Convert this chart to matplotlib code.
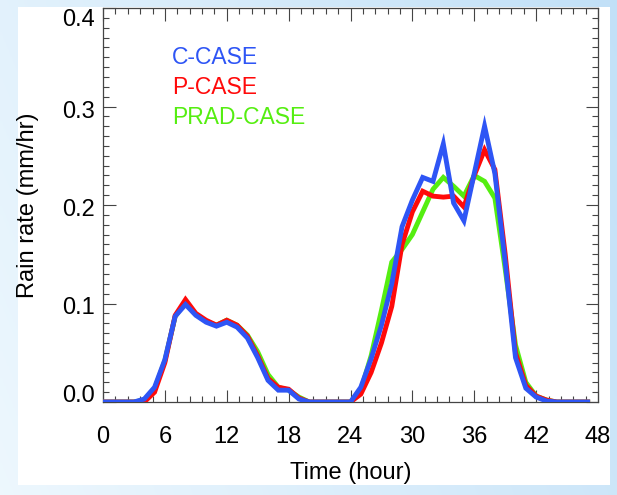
import numpy as np
import matplotlib
matplotlib.use("Agg")
import matplotlib.pyplot as plt
import matplotlib.transforms as mtransforms
from matplotlib.ticker import MultipleLocator

plt.rcParams['font.family'] = ['Liberation Sans', 'DejaVu Sans']

hours = list(range(48))
c_case = [0, 0, 0, 0, 0.003, 0.015, 0.043, 0.087, 0.099, 0.088, 0.081, 0.077, 0.081, 0.076, 0.065, 0.045,
          0.022, 0.012, 0.012, 0.003, 0, 0, 0, 0, 0, 0.015, 0.044, 0.078, 0.120, 0.178, 0.205, 0.228,
          0.224, 0.262, 0.202, 0.184, 0.232, 0.280, 0.232, 0.142, 0.045, 0.014, 0.005, 0.001, 0, 0, 0, 0]
p_case = [0, 0, 0, 0, 0, 0.010, 0.040, 0.088, 0.104, 0.090, 0.083, 0.078, 0.083, 0.078, 0.067, 0.047,
          0.024, 0.015, 0.013, 0.004, 0, 0, 0, 0, 0, 0.008, 0.030, 0.060, 0.097, 0.160, 0.193, 0.214,
          0.209, 0.208, 0.209, 0.198, 0.230, 0.256, 0.236, 0.150, 0.050, 0.017, 0.006, 0.002, 0, 0, 0, 0]
prad_case = [0, 0, 0, 0, 0.002, 0.013, 0.042, 0.087, 0.101, 0.089, 0.082, 0.078, 0.083, 0.078, 0.068, 0.051,
             0.028, 0.015, 0.012, 0.005, 0, 0, 0, 0, 0, 0.012, 0.047, 0.093, 0.142, 0.155, 0.170, 0.193,
             0.216, 0.228, 0.219, 0.209, 0.230, 0.224, 0.207, 0.135, 0.058, 0.020, 0.006, 0.002, 0, 0, 0, 0]
labels = ["C-CASE", "P-CASE", "PRAD-CASE"]
x_ticks = [0, 6, 12, 18, 24, 30, 36, 42, 48]
y_ticks = [0.0, 0.1, 0.2, 0.3, 0.4]

BLUE = "#2e55f5"
RED = "#ff0a0a"
GREEN = "#55ee11"

W, H = 617, 495
fig = plt.figure(figsize=(W / 100, H / 100), dpi=100)

# gradient background
bg = fig.add_axes([0, 0, 1, 1], zorder=-10)
gx = np.linspace(0, 1, 200)[None, :]
gy = np.linspace(1, 0, 200)[:, None]
t = np.clip(0.75 * gx + 0.25 * gy, 0, 1)
c0 = np.array([0.93, 0.97, 0.995])
c1 = np.array([0.76, 0.88, 0.97])
img = c0[None, None, :] * (1 - t[..., None]) + c1[None, None, :] * t[..., None]
bg.imshow(img, aspect='auto', extent=[0, 1, 0, 1])
bg.add_patch(plt.Rectangle((18 / W, 1 - 485 / H), (610 - 18) / W, (485 - 7) / H,
                           facecolor='white', edgecolor='none'))
bg.set_xlim(0, 1)
bg.set_ylim(0, 1)
bg.axis('off')

ax_left, ax_right, ax_top, ax_bot = 103, 598, 8, 402
ax = fig.add_axes([ax_left / W, 1 - ax_bot / H, (ax_right - ax_left) / W, (ax_bot - ax_top) / H])
ax.set_facecolor('none')
lw = 3.5
ax.plot(hours, prad_case, color=GREEN, lw=lw, solid_joinstyle='miter', zorder=3)
ax.plot(hours, p_case, color=RED, lw=lw, solid_joinstyle='miter', zorder=4)
ax.plot(hours, c_case, color=BLUE, lw=lw, solid_joinstyle='miter', zorder=5)

FS = 17
ax.set_xlim(0, 48)
ax.set_ylim(0, 0.4)
ax.set_xticks(x_ticks)
ax.set_yticks(y_ticks)
ax.set_xticklabels([str(v) for v in x_ticks], fontsize=FS)
ax.set_yticklabels([f"{v:.1f}" for v in y_ticks], fontsize=FS)
ax.xaxis.set_minor_locator(MultipleLocator(1.2))
ax.yaxis.set_minor_locator(MultipleLocator(0.01))
ax.tick_params(which='both', direction='in', top=True, right=True, color='#444444', width=0.8)
ax.tick_params(which='major', length=9)
ax.tick_params(which='minor', length=4.5)
ax.tick_params(axis='x', which='major', pad=17)
ax.tick_params(axis='y', which='major', pad=6)
# vertical offsets (pixels, positive = down) of y tick labels relative to their tick
offsets = [-6, 4, 5, 5, 12]
for lab, off in zip(ax.get_yticklabels(), offsets):
    lab.set_verticalalignment('center')
    lab.set_transform(lab.get_transform() +
                      mtransforms.ScaledTranslation(0, -off / 100, fig.dpi_scale_trans))
# the white panel cuts the last x tick label, as in the reference
panel_box = mtransforms.Bbox.from_extents(18, H - 485, 610, H - 7)
for lab in ax.get_xticklabels():
    lab.set_clip_box(mtransforms.TransformedBbox(panel_box, mtransforms.IdentityTransform()))
    lab.set_clip_on(True)
for s in ax.spines.values():
    s.set_color('#444444')
    s.set_linewidth(0.9)

ax.set_xlabel("Time (hour)", fontsize=FS, labelpad=10)
ax.set_ylabel("Rain rate (mm/hr)", fontsize=FS)
ax.yaxis.set_label_coords((28 - ax_left) / (ax_right - ax_left), 0.5)
ax.yaxis.label.set_verticalalignment('center')

for lab, col, yp in zip(labels, [BLUE, RED, GREEN], [58, 88, 118]):
    fig.text(172 / W, 1 - yp / H, lab, color=col, fontsize=16.5, va='center', ha='left')

fig.savefig("out.png", dpi=100)
